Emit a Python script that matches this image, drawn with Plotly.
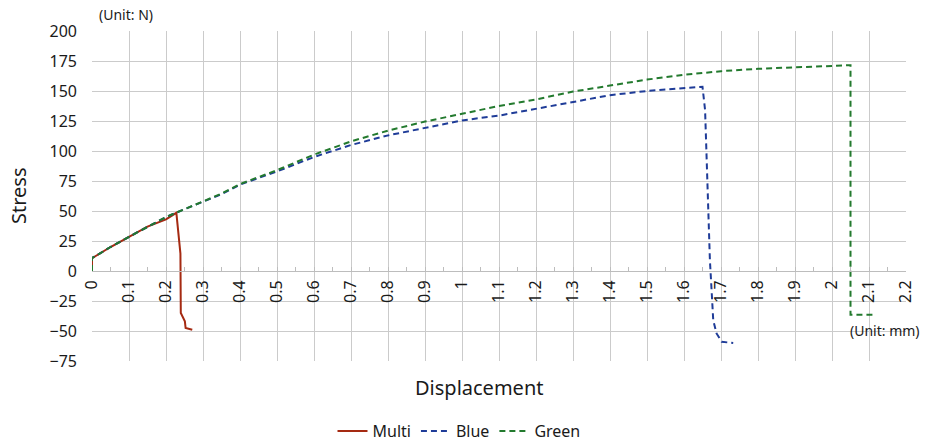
import plotly.graph_objects as go

# ---- data ----
multi_x = [0, 0, 0.01, 0.05, 0.1, 0.15, 0.2, 0.228, 0.239, 0.240, 0.251, 0.253, 0.271]
multi_y = [0, 10.5, 12.5, 20, 28.5, 37, 43, 48.5, 14.5, -35, -42, -47.5, -49]

blue_x = [0, 0, 0.01, 0.05, 0.1, 0.15, 0.2, 0.25, 0.3, 0.35, 0.4, 0.5, 0.6, 0.7, 0.8, 0.9,
          1.0, 1.1, 1.2, 1.3, 1.4, 1.5, 1.6, 1.65, 1.657, 1.661, 1.665, 1.670, 1.675,
          1.679, 1.688, 1.702, 1.733]
blue_y = [0, 11, 12.5, 20, 28.5, 37, 45, 51.5, 57.5, 64, 72, 83, 95, 105, 113, 119,
          125.5, 129.5, 135, 141, 146.5, 150, 152.5, 153.5, 134, 92.5, 51, 9, -18.5,
          -41, -52, -59, -60]

green_x = [0, 0, 0.01, 0.05, 0.1, 0.15, 0.2, 0.25, 0.3, 0.35, 0.4, 0.5, 0.6, 0.7, 0.8, 0.9,
           1.0, 1.1, 1.2, 1.3, 1.4, 1.5, 1.6, 1.7, 1.8, 1.9, 2.0, 2.05, 2.05, 2.11]
green_y = [0, 11, 12.5, 20, 28.5, 37, 45, 51.5, 58, 64.5, 72.5, 84, 97, 108, 117, 124.5,
           131, 137.5, 143, 149.5, 154.5, 159.5, 163.5, 166.5, 168.5, 169.5, 170.5, 171.5,
           -36.5, -36.5]

series_names = ["Multi", "Blue", "Green"]
x_ticks = [round(i * 0.1, 1) for i in range(23)]
x_tick_labels = ["0", "0.1", "0.2", "0.3", "0.4", "0.5", "0.6", "0.7", "0.8", "0.9", "1",
                 "1.1", "1.2", "1.3", "1.4", "1.5", "1.6", "1.7", "1.8", "1.9", "2", "2.1", "2.2"]
y_ticks = [-75, -50, -25, 0, 25, 50, 75, 100, 125, 150, 175, 200]

FONT = "Noto Sans"
TXT = "#1a1a1a"
Y_MIN, Y_MAX = -75, 200

W, H = 925, 445
PL, PT, PW, PH = 92, 31, 814, 330


def px(xp):
    return (xp - PL) / PW


def py(yp):
    return (PT + PH - yp) / PH


fig = go.Figure()
fig.add_trace(go.Scatter(x=multi_x, y=multi_y, mode="lines", name=series_names[0],
                         line=dict(color="#A52A12", width=2)))
fig.add_trace(go.Scatter(x=blue_x, y=blue_y, mode="lines", name=series_names[1],
                         line=dict(color="#1F3C98", width=2, dash="6px,4px")))
fig.add_trace(go.Scatter(x=green_x, y=green_y, mode="lines", name=series_names[2],
                         line=dict(color="#237A2E", width=2, dash="6px,4px")))

fig.update_layout(
    width=W, height=H,
    margin=dict(l=PL, r=W - PL - PW, t=PT, b=H - PT - PH, autoexpand=False),
    paper_bgcolor="white", plot_bgcolor="white",
    font=dict(family=FONT, size=16, color=TXT),
    showlegend=True,
    legend=dict(orientation="h", x=px(459), xanchor="center", y=py(431), yanchor="middle",
                font=dict(size=16, color=TXT), itemwidth=30, tracegroupgap=0,
                bgcolor="rgba(0,0,0,0)"),
    xaxis=dict(range=[0, 2.2], tickmode="array", tickvals=x_ticks, ticktext=x_tick_labels,
               tickangle=-90, showgrid=True, gridcolor="#CBCBCB", gridwidth=1,
               zeroline=False, showline=True, linecolor="#BDBDBD", linewidth=1,
               anchor="free", position=(0 - Y_MIN) / (Y_MAX - Y_MIN),
               ticks="inside", ticklen=4, tickcolor="#BDBDBD",
               minor=dict(dtick=0.05, tick0=0, ticks="inside", ticklen=4,
                          tickcolor="#BDBDBD", showgrid=False),
               tickfont=dict(size=16, color=TXT), ticklabelstandoff=2),
    yaxis=dict(range=[Y_MIN, Y_MAX], tickmode="array", tickvals=y_ticks,
               showgrid=True, gridcolor="#CBCBCB", gridwidth=1, zeroline=False,
               showline=False, ticks="", tickfont=dict(size=16, color=TXT),
               ticklabelstandoff=14),
    annotations=[
        dict(text="Stress", xref="paper", yref="paper", x=px(18), y=py(196), textangle=-90,
             showarrow=False, font=dict(size=20, color=TXT), xanchor="center", yanchor="middle"),
        dict(text="Displacement", xref="paper", yref="paper", x=px(479), y=py(387),
             showarrow=False, font=dict(size=20, color=TXT), xanchor="center", yanchor="middle"),
        dict(text="(Unit: N)", xref="paper", yref="paper", x=px(97), y=py(15),
             showarrow=False, font=dict(size=14, color=TXT), xanchor="left", yanchor="middle"),
        dict(text="(Unit: mm)", xref="paper", yref="paper", x=px(922), y=py(330),
             showarrow=False, font=dict(size=14, color=TXT), xanchor="right", yanchor="middle"),
    ],
)

fig.write_html("out.html", config={"displayModeBar": False},
               post_script="document.body.style.margin='0';document.body.style.overflow='hidden';")
